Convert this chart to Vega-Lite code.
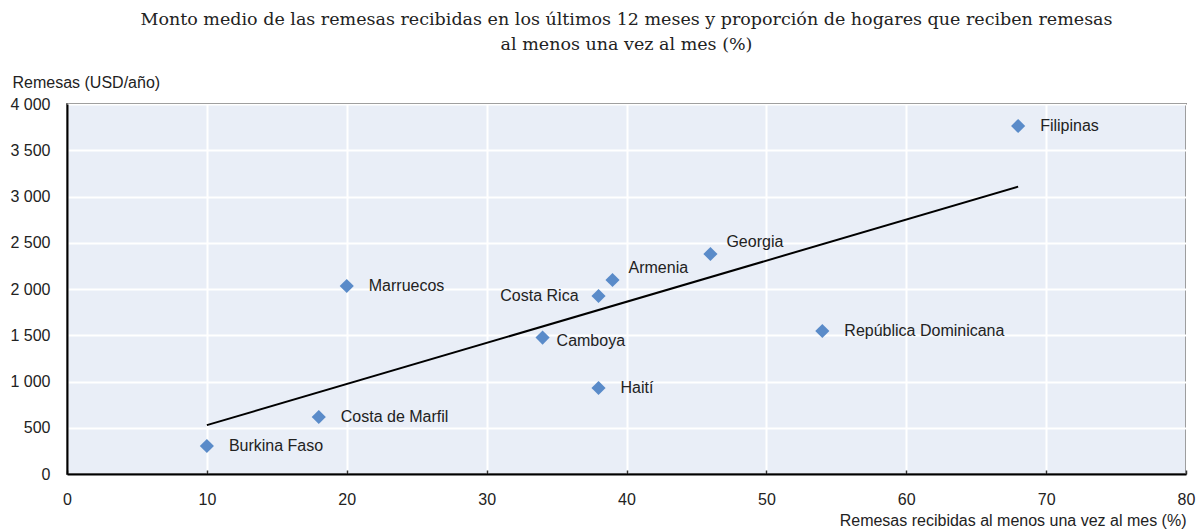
{
  "$schema": "https://vega.github.io/schema/vega-lite/v6.json",
  "width": 1119,
  "height": 370,
  "autosize": {"type": "none"},
  "padding": {"left": 67, "top": 104, "right": 10, "bottom": 56},
  "background": "white",
  "title": {
    "text": ["Monto medio de las remesas recibidas en los últimos 12 meses y proporción de hogares que reciben remesas", "al menos una vez al mes (%)"],
    "font": "DejaVu Serif",
    "fontSize": 17.5,
    "fontWeight": "normal",
    "color": "#222222",
    "anchor": "middle",
    "lineHeight": 25,
    "offset": 21
  },
  "config": {
    "view": {"fill": "#E9EEF7", "stroke": "#000000", "strokeWidth": 1.5},
    "font": "Liberation Sans"
  },
  "data": {
    "values": [
      {"pais": "Burkina Faso", "x": 10, "y": 303},
      {"pais": "Costa de Marfil", "x": 18, "y": 616},
      {"pais": "Marruecos", "x": 20, "y": 2032},
      {"pais": "Camboya", "x": 34, "y": 1475},
      {"pais": "Costa Rica", "x": 38, "y": 1924},
      {"pais": "Armenia", "x": 39, "y": 2097},
      {"pais": "Haití", "x": 38, "y": 930},
      {"pais": "Georgia", "x": 46, "y": 2378},
      {"pais": "República Dominicana", "x": 54, "y": 1546},
      {"pais": "Filipinas", "x": 68, "y": 3762}
    ]
  },
  "encoding": {
    "x": {
      "field": "x", "type": "quantitative",
      "scale": {"domain": [0, 80], "nice": false, "zero": false},
      "axis": {
        "title": "Remesas recibidas al menos una vez al mes (%)",
        "titleFont": "Liberation Sans", "titleFontSize": 16, "titleFontWeight": "normal", "titleColor": "#222222",
        "titleAnchor": "end", "titleAlign": "right", "titleX": 1119, "titleY": 46, "titleBaseline": "middle",
        "values": [0, 10, 20, 30, 40, 50, 60, 70, 80],
        "labelFont": "Liberation Sans", "labelFontSize": 16, "labelColor": "#222222",
        "labelPadding": 21, "labelBaseline": "top", "labelFlush": false,
        "ticks": true, "tickSize": -4, "tickColor": "#333333", "tickWidth": 1.5,
        "domain": true, "domainColor": "#000000", "domainWidth": 2,
        "grid": true, "gridColor": "#FFFFFF", "gridWidth": 2
      }
    },
    "y": {
      "field": "y", "type": "quantitative",
      "scale": {"domain": [0, 4000], "nice": false},
      "axis": {
        "title": "Remesas (USD/año)",
        "titleFont": "Liberation Sans", "titleFontSize": 16, "titleFontWeight": "normal", "titleColor": "#222222",
        "titleAngle": 0, "titleAlign": "left", "titleBaseline": "middle", "titleX": -55, "titleY": -22,
        "values": [0, 500, 1000, 1500, 2000, 2500, 3000, 3500, 4000],
        "labelExpr": "replace(format(datum.value, ',.0f'), ',', ' ')",
        "labelFont": "Liberation Sans", "labelFontSize": 16, "labelColor": "#222222",
        "labelPadding": 17, "labelFlush": false,
        "ticks": false,
        "domain": true, "domainColor": "#000000", "domainWidth": 2,
        "grid": true, "gridColor": "#FFFFFF", "gridWidth": 2
      }
    }
  },
  "layer": [
    {
      "transform": [{"regression": "y", "on": "x"}],
      "mark": {"type": "line", "color": "#000000", "strokeWidth": 2, "clip": true}
    },
    {
      "mark": {"type": "point", "shape": "diamond", "filled": true, "size": 200, "color": "#5A8BC9", "opacity": 1}
    },
    {
      "transform": [{"filter": "indexof(['Burkina Faso','Costa de Marfil','Marruecos','Haití','República Dominicana','Filipinas'], datum.pais) >= 0"}],
      "mark": {"type": "text", "align": "left", "baseline": "middle", "dx": 22, "fontSize": 16, "font": "Liberation Sans", "color": "#222222"},
      "encoding": {"text": {"field": "pais"}}
    },
    {
      "transform": [{"filter": "datum.pais === 'Costa Rica'"}],
      "mark": {"type": "text", "align": "right", "baseline": "middle", "dx": -20, "fontSize": 16, "font": "Liberation Sans", "color": "#222222"},
      "encoding": {"text": {"field": "pais"}}
    },
    {
      "transform": [{"filter": "datum.pais === 'Armenia' || datum.pais === 'Georgia'"}],
      "mark": {"type": "text", "align": "left", "baseline": "middle", "dx": 16, "dy": -12, "fontSize": 16, "font": "Liberation Sans", "color": "#222222"},
      "encoding": {"text": {"field": "pais"}}
    },
    {
      "transform": [{"filter": "datum.pais === 'Camboya'"}],
      "mark": {"type": "text", "align": "left", "baseline": "middle", "dx": 14, "dy": 3, "fontSize": 16, "font": "Liberation Sans", "color": "#222222"},
      "encoding": {"text": {"field": "pais"}}
    }
  ]
}
